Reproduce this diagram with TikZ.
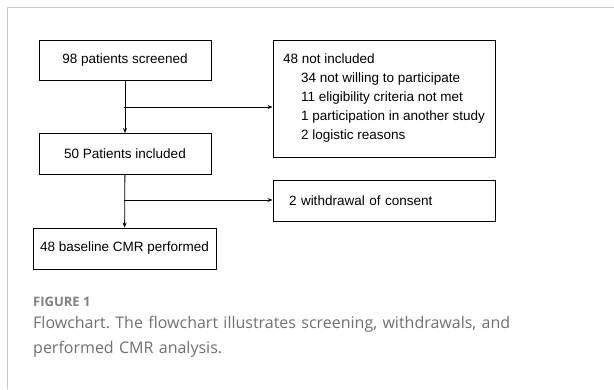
\documentclass[tikz,border=0pt]{standalone}
\usepackage{fontspec}
\setmainfont{Liberation Sans}
\newfontfamily\capfont{Open Sans}
\usetikzlibrary{arrows.meta}
\definecolor{framegray}{RGB}{200,200,200}
\definecolor{capgray}{RGB}{112,112,112}
\definecolor{labelgray}{RGB}{128,128,128}
\frenchspacing

\begin{document}
\begin{tikzpicture}[x=1pt,y=-1pt,
    box/.style={draw, line width=0.9pt, inner sep=0pt, font=\fontsize{13.5}{19}\selectfont},
    >={Stealth[length=5pt,width=4pt]}]
    \useasboundingbox (0,0) rectangle (614,389);
    % Frame
    \draw[framegray, line width=1pt] (614,7) -- (7,7) -- (7,389);

    % Main flow
    \node[box, minimum width=172, minimum height=40] (screened) at (125,60) {98 patients screened};
    \node[box, minimum width=172, minimum height=41] (included) at (125,154) {50 Patients included};
    \node[box, minimum width=183, minimum height=41] (cmr) at (124.5,248.5) {48 baseline CMR performed};

    % Side boxes
    \node[box, align=left, minimum width=222, minimum height=117] (excluded) at (384,98.5)
        {48 not included\\
         \hspace*{18pt}34 not willing to participate\\
         \hspace*{18pt}11 eligibility criteria not met\\
         \hspace*{18pt}1 participation in another study\\
         \hspace*{18pt}2 logistic reasons};
    \node[box, align=left, inner xsep=16, text width=190, minimum height=41] (withdrawn) at (384,200.5) {2 withdrawal of consent};

    % Connectors
    \draw[->, line width=0.8pt] (screened) -- (included);
    \draw[->, line width=0.8pt] (included) -- (cmr);
    \coordinate (split1) at (124,107);
    \coordinate (split2) at (124,200);
    \draw[->, line width=0.8pt] (split1) -- (split1 -| excluded.west);
    \draw[->, line width=0.8pt] (split2) -- (split2 -| withdrawn.west);

    % Caption
    \node[anchor=west, inner sep=0pt, text=labelgray, font=\capfont\fontsize{13}{15}\selectfont\bfseries] (figlabel) at (33,302) {FIGURE 1};
    \node[anchor=north west, inner sep=0pt, text width=540, align=left, text=capgray,
        font=\capfont\fontsize{16}{25}\selectfont] (caption) at (33,316)
        {Flowchart. The flowchart illustrates screening, withdrawals, and\\performed CMR analysis.};
\end{tikzpicture}
\end{document}
